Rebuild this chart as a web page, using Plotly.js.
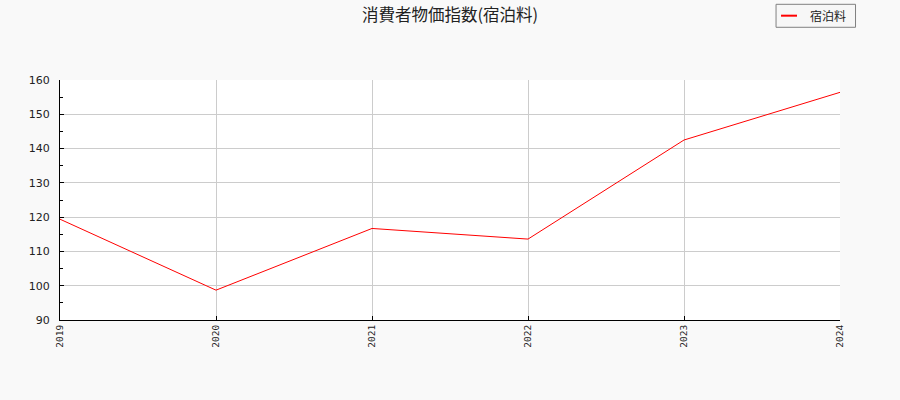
<!DOCTYPE html>
<html>
<head>
<meta charset="utf-8">
<script src="https://cdn.plot.ly/plotly-3.0.1.min.js"></script>
<style>
  body { margin: 0; background: #f9f9f9; }
  #chart { width: 900px; height: 400px; }
</style>
</head>
<body>
<div id="chart"></div>
<script>
// 消費者物価指数（宿泊料）
var years = [2019, 2020, 2021, 2022, 2023, 2024]
var lodging = [119.4, 98.7, 116.7, 113.6, 142.5, 156.4]
var seriesName = "宿泊料"
var chartTitle = "消費者物価指数(宿泊料)"

// hand-made legend box (paper coords, above the plot on the right)
var legendShapes = [{
    type: "rect", xref: "paper", yref: "paper",
    x0: 0.918, x1: 1.0199, y0: 1.2196, y1: 1.3154,
    line: { color: "#808080", width: 1 },
    fillcolor: "#f7f7f7",
}, {
    type: "line", xref: "paper", yref: "paper",
    x0: 0.9244, x1: 0.9449, y0: 1.268, y1: 1.268,
    line: { color: "#ff0000", width: 2 },
}]

Plotly.newPlot(
    document.getElementById("chart"),
    [{
        type: "scatter",
        mode: "lines",
        x: years,
        y: lodging,
        name: seriesName,
        line: { color: "#ff0000", width: 1 },
        hoverinfo: "x+y",
    }],
    {
        width: 900,
        height: 400,
        paper_bgcolor: "#f9f9f9",
        plot_bgcolor: "#ffffff",
        margin: { l: 60, r: 60, t: 80, b: 80, autoexpand: false },
        showlegend: false,
        title: {
            text: chartTitle,
            font: { family: "Noto Sans CJK JP, sans-serif", size: 16.5, color: "#222222" },
            x: 0.5,
            xanchor: "center",
            y: 0.961,
            yanchor: "middle",
        },
        shapes: legendShapes,
        annotations: [{
            xref: "paper", yref: "paper",
            x: 0.959, y: 1.268,
            xanchor: "left", yanchor: "middle",
            showarrow: false,
            text: seriesName,
            font: { family: "Noto Sans CJK JP, sans-serif", size: 12, color: "#222222" },
        }],
        xaxis: {
            range: [2019, 2024],
            tickmode: "array",
            tickvals: years,
            ticktext: years.map(String),
            tickangle: -90,
            ticks: "inside",
            ticklen: 4,
            tickcolor: "#000000",
            showline: true,
            linecolor: "#000000",
            linewidth: 1,
            showgrid: true,
            gridcolor: "#cccccc",
            zeroline: false,
            tickfont: { family: "DejaVu Sans Mono, monospace", size: 9.5, color: "#222222" },
        },
        yaxis: {
            range: [90, 160],
            dtick: 10,
            ticks: "inside",
            ticklen: 4,
            tickcolor: "#000000",
            ticklabelstandoff: 7,
            showline: true,
            linecolor: "#000000",
            linewidth: 1,
            showgrid: true,
            gridcolor: "#cccccc",
            zeroline: false,
            minor: { dtick: 5, ticks: "inside", ticklen: 3, tickcolor: "#000000", showgrid: false },
            tickfont: { family: "DejaVu Sans, sans-serif", size: 11, color: "#222222" },
        },
    },
    { displayModeBar: false, staticPlot: true }
)
</script>
</body>
</html>
